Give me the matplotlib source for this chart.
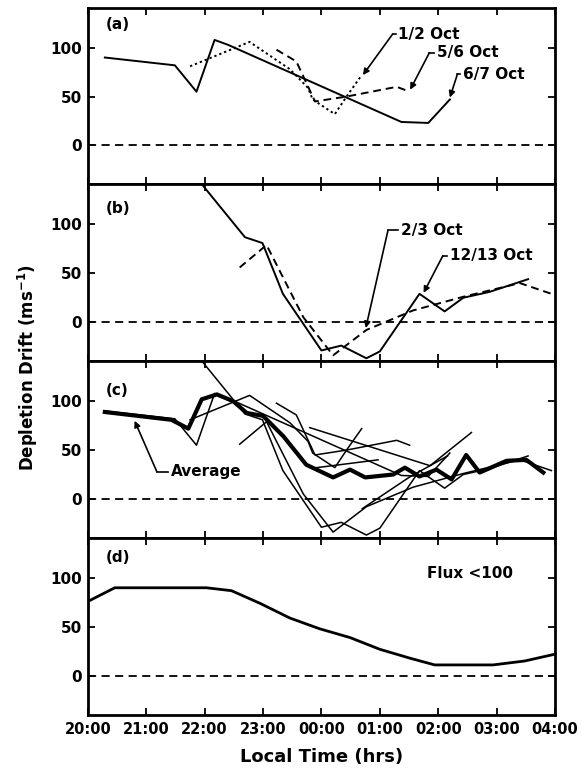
import matplotlib.pyplot as plt

plt.rcParams['font.family'] = 'DejaVu Sans'
plt.rcParams['font.weight'] = 'bold'

# hours after 20:00 local time
hour_labels = ['20:00', '21:00', '22:00', '23:00', '00:00', '01:00', '02:00', '03:00', '04:00']

# panel (a)
oct12_x = [1.75, 2.77, 3.46, 3.77, 3.85, 4.23, 4.43, 4.69]
oct12_y = [81, 106, 78, 59, 47, 32, 50, 72]
oct56_x = [3.23, 3.57, 3.89, 4.43, 5.29, 5.51]
oct56_y = [98, 86, 45, 50, 60, 55]
oct67_x = [0.29, 1.49, 1.86, 2.17, 2.40, 5.37, 5.83, 6.20]
oct67_y = [90, 82, 55, 108, 103, 24, 23, 47]

# panel (b)
oct23_x = [2.60, 3.06, 3.69, 4.20, 4.77, 5.57, 6.43, 7.40, 7.94]
oct23_y = [56, 79, 5, -34, -8, 12, 26, 40, 29]
oct1213_x = [1.90, 2.69, 2.99, 3.34, 4.00, 4.34, 4.77, 5.00, 5.68, 6.11, 6.43, 6.88, 7.54]
oct1213_y = [145, 87, 81, 29, -29, -24, -37, -30, 29, 11, 25, 31, 44]

# panel (c): other nights and average
extra1_x = [3.80, 5.86, 6.57]
extra1_y = [73, 34, 68]
extra2_x = [3.92, 4.97]
extra2_y = [32, 40]
extra3_x = [4.70, 5.50, 6.16]
extra3_y = [-10, 22, 44]
avg_x = [0.29, 1.43, 1.72, 1.95, 2.21, 2.49, 2.72, 3.00, 3.35, 3.74, 4.20, 4.49, 4.75,
         5.23, 5.43, 5.68, 5.97, 6.23, 6.48, 6.71, 7.17, 7.51, 7.80]
avg_y = [89, 81, 72, 102, 107, 100, 88, 85, 64, 35, 22, 30, 22,
         25, 32, 23, 30, 20, 45, 27, 39, 40, 27]

# panel (d): flux < 100
flux_x = [0.0, 0.46, 2.03, 2.46, 2.95, 3.46, 3.97, 4.49, 5.00, 5.51, 5.94, 6.94, 7.48, 8.0]
flux_y = [76, 90, 90, 87, 74, 59, 48, 39, 27, 18, 11, 11, 15, 22]

fig = plt.figure(figsize=(5.86, 7.71), dpi=100)
axes = fig.subplots(4, 1, sharex=True)
plt.subplots_adjust(left=0.150, right=0.947, top=0.990, bottom=0.073, hspace=0)

for ax in axes:
    ax.set_xlim(0, 8)
    ax.set_ylim(-40, 141)
    ax.set_yticks([0, 50, 100])
    ax.set_xticks(range(9))
    ax.axhline(0, color='black', lw=1.3, ls=(0, (4.5, 3)))
    ax.tick_params(direction='in', top=True, right=True, length=5, width=1.3,
                   labelsize=11, pad=4)
    for s in ax.spines.values():
        s.set_linewidth(2)
    for lab in ax.get_yticklabels():
        lab.set_fontweight('bold')
axes[-1].set_xticklabels(hour_labels, fontsize=10.5, fontweight='bold')
axes[-1].tick_params(axis='x', pad=5)

def label(ax, text, tip, corner, textx):
    ax.plot([corner[0], textx - 0.05], [corner[1], corner[1]], color='black', lw=1.2)
    ax.annotate('', xy=tip, xytext=corner,
                arrowprops=dict(arrowstyle='-|>', color='black', lw=1.2,
                                mutation_scale=9, shrinkA=0, shrinkB=0))
    ax.text(textx, corner[1], text, fontsize=11, fontweight='bold', va='center', ha='left')

# (a)
ax = axes[0]
ax.plot(oct67_x, oct67_y, color='black', lw=1.4)
ax.plot(oct12_x, oct12_y, color='black', lw=1.4, ls=(0, (1.2, 1.5)))
ax.plot(oct56_x, oct56_y, color='black', lw=1.4, ls=(0, (4, 2.5)))
ax.text(0.30, 124, '(a)', fontsize=11, fontweight='bold', va='center')
label(ax, '1/2 Oct', (4.71, 72), (5.22, 114), 5.32)
label(ax, '5/6 Oct', (5.52, 57), (5.85, 95), 5.98)
label(ax, '6/7 Oct', (6.20, 49), (6.33, 73), 6.43)

# (b)
ax = axes[1]
ax.plot(oct1213_x, oct1213_y, color='black', lw=1.4)
ax.plot(oct23_x, oct23_y, color='black', lw=1.4, ls=(0, (4, 2.5)))
ax.text(0.30, 116, '(b)', fontsize=11, fontweight='bold', va='center')
label(ax, '2/3 Oct', (4.76, -6), (5.14, 94), 5.36)
label(ax, '12/13 Oct', (5.75, 30), (6.08, 68), 6.20)

# (c)
ax = axes[2]
for xs, ys in [(oct12_x, oct12_y), (oct56_x, oct56_y), (oct67_x, oct67_y),
               (oct23_x, oct23_y), (oct1213_x, oct1213_y),
               (extra1_x, extra1_y), (extra2_x, extra2_y), (extra3_x, extra3_y)]:
    ax.plot(xs, ys, color='black', lw=1.1)
ax.plot(avg_x, avg_y, color='black', lw=3)
ax.text(0.30, 111, '(c)', fontsize=11, fontweight='bold', va='center')
label(ax, 'Average', (0.80, 80), (1.18, 28), 1.42)

# (d)
ax = axes[3]
ax.plot(flux_x, flux_y, color='black', lw=2)
ax.text(0.30, 121, '(d)', fontsize=11, fontweight='bold', va='center')
ax.text(5.80, 105, 'Flux <100', fontsize=11, fontweight='bold', va='center')
ax.set_xlabel('Local Time (hrs)', fontsize=13, fontweight='bold', labelpad=8)

fig.text(28 / 586, 1 - 368 / 771, 'Depletion Drift (ms$^{\\mathbf{-1}}$)', rotation=90,
         fontsize=12, fontweight='bold', ha='center', va='center')

fig.savefig('out.png', dpi=100)
